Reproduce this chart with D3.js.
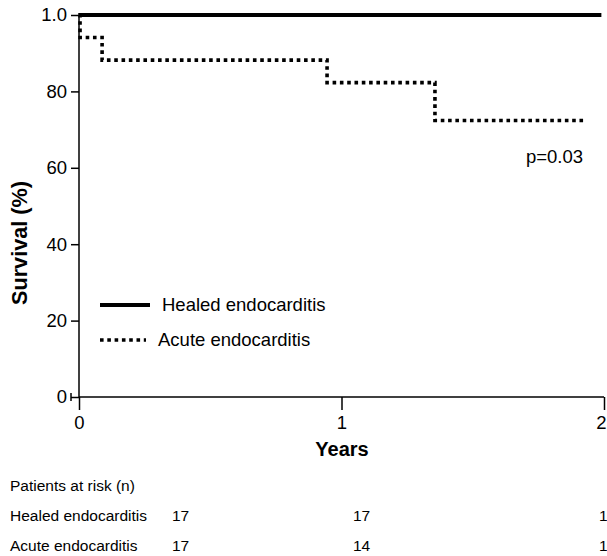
<!DOCTYPE html>
<html>
<head>
<meta charset="utf-8">
<script src="https://cdn.jsdelivr.net/npm/d3@7"></script>
<style>
	body { margin: 0; background: #fff; }
	svg { display: block; font-family: "Liberation Sans", Arial, sans-serif; }
</style>
</head>
<body>
<svg width="607" height="556"></svg>
<script>
// Kaplan-Meier steps, time in years, survival in %
var healedTimes = [0, 1.99];
var healedSurvival = [100, 100];
var acuteTimes = [0, 0.004, 0.088, 0.945, 1.356, 1.928];
var acuteSurvival = [100, 94.1, 88.2, 82.3, 72.4, 72.4];

var yTicks = [0, 20, 40, 60, 80, 100];
var yTickLabels = ['0', '20', '40', '60', '80', '1.0'];
var xTicks = [0, 1, 2];

var riskGroups = ['Healed endocarditis', 'Acute endocarditis'];
var riskHealed = [17, 17, 1];
var riskAcute = [17, 14, 1];

var svg = d3.select('svg');

var x = d3.scaleLinear().domain([0, 2]).range([79, 604]);
var y = d3.scaleLinear().domain([0, 100]).range([397, 15]);

// axes
var yAxis = d3.axisLeft(y)
	.tickValues(yTicks)
	.tickFormat(function (d, i) { return yTickLabels[i]; })
	.tickSize(8)
	.tickPadding(4);

var yg = svg.append('g')
	.attr('transform', 'translate(79,0)')
	.call(yAxis);
yg.select('.domain').attr('d', 'M0,13V397');
// little end cap on the zero tick, as in the original
yg.append('line')
	.attr('x1', -8).attr('x2', -8)
	.attr('y1', y(0) - 4).attr('y2', y(0) + 4);

var xAxis = d3.axisBottom(x)
	.tickValues(xTicks)
	.tickFormat(d3.format('d'))
	.tickSize(13)
	.tickPadding(6);

var xg = svg.append('g')
	.attr('transform', 'translate(0,397)')
	.call(xAxis);
xg.select('.domain').attr('d', 'M79,0H604');
xg.selectAll('.tick text').attr('dx', function (d) { return d === 2 ? -3 : 0; });

svg.selectAll('.tick line, .domain, g line').attr('stroke', '#000').attr('stroke-width', 1.5);
svg.selectAll('.tick text').attr('fill', '#000').style('font-size', '18.5px');

// axis titles
var yTitle = svg.append('text')
	.attr('transform', 'translate(27,243) rotate(-90)')
	.attr('text-anchor', 'middle')
	.style('font-size', '20px')
	.style('font-weight', 'bold')
	.text('Survival (%)');
// fit the title to the length it has in the original
var len = yTitle.node().getComputedTextLength();
if (len > 0) yTitle.style('font-size', (20 * 124 / len) + 'px');

svg.append('text')
	.attr('x', 342).attr('y', 456)
	.attr('text-anchor', 'middle')
	.style('font-size', '20px')
	.style('font-weight', 'bold')
	.text('Years');

// survival curves
var line = d3.line()
	.x(function (d) { return x(d[0]); })
	.y(function (d) { return y(d[1]); })
	.curve(d3.curveStepAfter);

svg.append('path')
	.datum(d3.zip(healedTimes, healedSurvival))
	.attr('fill', 'none')
	.attr('stroke', '#000')
	.attr('stroke-width', 4)
	.attr('d', line);

svg.append('path')
	.datum(d3.zip(acuteTimes, acuteSurvival))
	.attr('fill', 'none')
	.attr('stroke', '#000')
	.attr('stroke-width', 3.6)
	.attr('stroke-dasharray', '3.6,3.7')
	.attr('d', line);

// legend
var legend = svg.append('g').style('font-size', '18.5px');
legend.append('line')
	.attr('x1', 100).attr('x2', 150).attr('y1', 305).attr('y2', 305)
	.attr('stroke', '#000').attr('stroke-width', 4);
legend.append('text').attr('x', 162).attr('y', 311).text(riskGroups[0]);
legend.append('line')
	.attr('x1', 100).attr('x2', 146).attr('y1', 340).attr('y2', 340)
	.attr('stroke', '#000').attr('stroke-width', 3.6)
	.attr('stroke-dasharray', '3.6,3.7');
legend.append('text').attr('x', 158).attr('y', 346).text(riskGroups[1]);

svg.append('text')
	.attr('x', 583).attr('y', 163)
	.attr('text-anchor', 'end')
	.style('font-size', '18.5px')
	.text('p=0.03');

// patients at risk table
var table = svg.append('g').style('font-size', '15.5px');
table.append('text').attr('x', 10).attr('y', 491).text('Patients at risk (n)');

var colX = [172, 353, 599];
[riskHealed, riskAcute].forEach(function (row, i) {
	var ry = 521 + i * 30;
	table.append('text').attr('x', 10).attr('y', ry).text(riskGroups[i]);
	table.selectAll(null)
		.data(row)
		.enter().append('text')
		.attr('x', function (d, j) { return colX[j]; })
		.attr('y', ry)
		.text(function (d) { return d; });
});
</script>
</body>
</html>
